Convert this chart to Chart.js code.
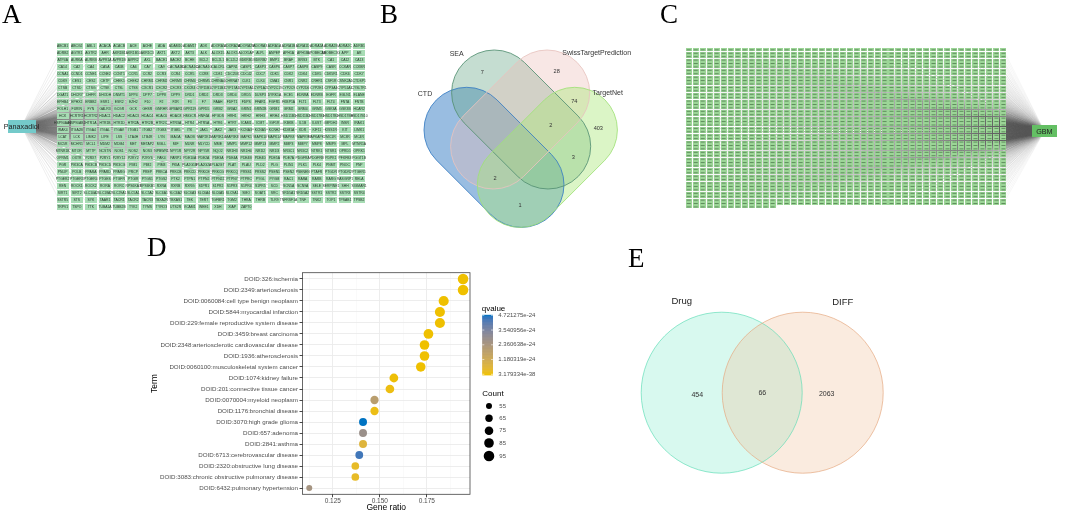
<!DOCTYPE html>
<html><head><meta charset="utf-8">
<script src="https://cdn.jsdelivr.net/npm/chart.js@4.4.1/dist/chart.umd.min.js"></script>
<style>
html,body{margin:0;padding:0;background:#fff;}
body{width:1065px;height:513px;overflow:hidden;position:relative;}
canvas{position:absolute;}
</style></head>
<body>
<canvas id="cA" width="380" height="225" style="left:0px;top:0px"></canvas>
<canvas id="cB" width="280" height="250" style="left:380px;top:0px"></canvas>
<canvas id="cC" width="405" height="225" style="left:660px;top:0px"></canvas>
<canvas id="cD" width="420" height="281" style="left:140px;top:232px"></canvas>
<canvas id="cE" width="455" height="273" style="left:610px;top:240px"></canvas>
<script>
// ================= DATA =================
const drugHub = 'Panaxadiol';
const drugGenes = [
 'ABCB1 ABCG2 ABL1 ACACA ACACB ACE ACHE ADA ADAM10 ADAM17 ADK ADORA1 ADORA2A ADORA2B ADORA3 ADRA1A ADRA1B ADRA1D ADRA2A ADRA2B ADRA2C ADRB1',
 'ADRB2 AGTR1 AGTR2 AHR AKR1B1 AKR1B10 AKR1C3 AKT1 AKT2 AKT3 ALK ALOX15 ALOX5 ALOX5AP ALPL ANPEP APH1A APH1B APOBEC3A APOBEC3G APP AR',
 'ATP4A AURKA AURKB AVPR1A AVPR1B AVPR2 AXL BACE1 BACE2 BCHE BCL2 BCL2L1 BCL2L2 BDKRB1 BDKRB2 BMP1 BRAF BRS3 BTK CA1 CA12 CA13',
 'CA14 CA2 CA4 CA5A CA5B CA6 CA7 CA9 CACNA1B CACNA1C CACNA1G CALCRL CAPN1 CASP1 CASP3 CASP6 CASP7 CASP8 CASP9 CASR CCKAR CCKBR',
 'CCNA1 CCND1 CCNE1 CCNE2 CCNT1 CCR1 CCR2 CCR3 CCR4 CCR5 CCR8 CD81 CDC25B CDC42 CDC7 CDK1 CDK2 CDK4 CDK5 CDK5R1 CDK6 CDK7',
 'CDK9 CES1 CES2 CETP CHEK1 CHEK2 CHRM1 CHRM2 CHRM3 CHRM4 CHRM5 CHRNA4 CHRNA7 CLK1 CLK4 CMA1 CNR1 CNR2 CRHR1 CSF1R CSNK2A1 CTDSP1',
 'CTSB CTSD CTSG CTSK CTSL CTSS CXCR1 CXCR2 CXCR3 CXCR4 CYP11B1 CYP11B2 CYP17A1 CYP19A1 CYP1A2 CYP2C19 CYP2C9 CYP2D6 CYP2E1 CYP3A4 CYP51A1 CYSLTR1',
 'DGAT1 DHCR7 DHFR DHODH DNMT1 DPP4 DPP7 DPP8 DPP9 DRD1 DRD2 DRD3 DRD4 DRD5 DUSP3 DYRK1A ECE1 EDNRA EDNRB EGFR EGLN1 ELANE',
 'EPHB4 EPHX2 ERBB2 ESR1 ESR2 EZH2 F10 F2 F2R F3 F7 FAAH FDFT1 FDPS FFAR1 FGFR1 FKBP1A FLT1 FLT3 FLT4 FNTA FNTB',
 'FOLH1 FURIN FYN GALR3 GCGR GCK GHSR GNRHR GPBAR1 GPR119 GPR55 GRB2 GRIA2 GRIN1 GRIN2B GRM1 GRM2 GRM4 GRM5 GSK3A GSK3B HCAR2',
 'HCK HCRTR1 HCRTR2 HDAC1 HDAC2 HDAC3 HDAC4 HDAC6 HDAC8 HMGCR HNF4A HPGDS HRH1 HRH2 HRH3 HRH4 HSD11B1 HSD11B2 HSD17B1 HSD17B2 HSD17B3 HSD17B10',
 'HSP90AA1 HSP90AB1 HTR1A HTR1B HTR1D HTR2A HTR2B HTR2C HTR3A HTR4 HTR5A HTR6 HTR7 ICAM1 ICMT IGF1R IKBKB IL1B IL6ST IMPDH2 INSR IRAK1',
 'IRAK4 ITGA2B ITGA4 ITGAL ITGAV ITGB1 ITGB2 ITGB3 ITGB5 ITK JAK1 JAK2 JAK3 KCNA3 KCNA5 KCNH2 KDM1A KDR KIF11 KISS1R KIT LIMK1',
 'LCAT LCK LIMK2 LIPE LSS LTA4H LTB4R LYN MAOA MAOB MAP2K1 MAP3K14 MAP3K8 MAPK1 MAPK10 MAPK14 MAPK8 MAPK9 MAPKAPK2 MC1R MC3R MC4R',
 'MC5R MCHR1 MCL1 MDM2 MDM4 MET METAP2 MGLL MIF MLNR MLYCD MME MMP1 MMP12 MMP13 MMP2 MMP3 MMP7 MMP8 MMP9 MPL MTNR1A',
 'MTNR1B MTOR MTTP NCSTN NOS1 NOS2 NOS3 NPBWR1 NPY1R NPY2R NPY5R NQO2 NR1H3 NR1H4 NR1I2 NR1I3 NR3C1 NR3C2 NTRK1 NTSR1 OPRD1 OPRK1',
 'OPRM1 OXTR P2RX7 P2RY1 P2RY12 P2RY2 P2RY6 PAK4 PARP1 PDE10A PDE2A PDE3A PDE4A PDE4B PDE4D PDE5A PDE7A PDGFRA PDGFRB PDPK1 PFKFB3 PGGT1B',
 'PGR PIK3CA PIK3CB PIK3CD PIK3CG PIM1 PIM2 PIM3 PKIA PLA2G1B PLA2G2A PLA2G7 PLAT PLAU PLD2 PLG PLIN1 PLK1 PLK4 PNMT PNOC PNP',
 'PNLIP POLB PPARA PPARD PPARG PRCP PREP PRKCA PRKCB PRKCD PRKCE PRKCG PRKCQ PRSS1 PRSS2 PSEN1 PSEN2 PSENEN PTAFR PTGDR PTGDR2 PTGER1',
 'PTGER2 PTGER3 PTGER4 PTGES PTGFR PTGIR PTGS1 PTGS2 PTK2 PTPN1 PTPN2 PTPN22 PTPN7 PTPRC PYGL PYGM RAC1 RARA RARB RARG RASGRP1 RELA',
 'REN ROCK1 ROCK2 RORA RORC RPS6KA3 RPS6KB1 RXRA RXRB RXRG S1PR1 S1PR2 S1PR3 S1PR4 S1PR5 SCD SCN5A SCN9A SELE SERPINE1 SHH SIGMAR1',
 'SIRT1 SIRT2 SLC10A2 SLC18A2 SLC29A1 SLC5A1 SLC5A2 SLC6A1 SLC6A2 SLC6A3 SLC6A4 SLC6A5 SLC9A1 SMO SOAT1 SRC SRD5A1 SRD5A2 SSTR1 SSTR2 SSTR3 SSTR4',
 'SSTR5 STS SYK TAAR1 TACR1 TACR2 TACR3 TBXA2R TBXAS1 TEK TERT TGFBR1 TGM2 THRA THRB TLR9 TNFRSF1A TNF TNK2 TOP1 TPSAB1 TPSB2',
 'TRPV1 TSPO TTK TUBA1A TUBB2B TYK2 TYMS TYRO3 UTS2R VCAM1 WEE1 XDH XIAP ZAP70'
].join(' ').split(' ');

const diseaseHub = 'GBM';
const vennBSets = ['CTD', 'SEA', 'SwissTargetPrediction', 'TargetNet'];
const vennBRegions = ['SEA', 'Swiss', 'Swiss∩TargetNet', 'SEA∩Swiss∩TargetNet', 'TargetNet', 'SEA∩TargetNet', 'CTD∩Swiss∩TargetNet', 'CTD∩TargetNet'];
const vennBCounts = [7, 28, 74, 2, 403, 3, 2, 1];

const vennESets = ['Drug', 'DIFF'];
const vennERegions = ['Drug only', 'Drug∩DIFF', 'DIFF only'];
const vennECounts = [454, 66, 2063];
const diffGeneTotal = vennECounts[1] + vennECounts[2];

const doTerms = [
 'DOID:326:ischemia', 'DOID:2349:arteriosclerosis', 'DOID:0060084:cell type benign neoplasm',
 'DOID:5844:myocardial infarction', 'DOID:229:female reproductive system disease', 'DOID:3459:breast carcinoma',
 'DOID:2348:arteriosclerotic cardiovascular disease', 'DOID:1936:atherosclerosis', 'DOID:0060100:musculoskeletal system cancer',
 'DOID:1074:kidney failure', 'DOID:201:connective tissue cancer', 'DOID:0070004:myeloid neoplasm',
 'DOID:1176:bronchial disease', 'DOID:3070:high grade glioma', 'DOID:657:adenoma', 'DOID:2841:asthma',
 'DOID:6713:cerebrovascular disease', 'DOID:2320:obstructive lung disease',
 'DOID:3083:chronic obstructive pulmonary disease', 'DOID:6432:pulmonary hypertension'
];
const doGeneRatio = [0.1943, 0.1943, 0.1840, 0.1820, 0.1820, 0.1759, 0.1738, 0.1738, 0.1718, 0.1575,
                     0.1554, 0.1472, 0.1472, 0.1411, 0.1411, 0.1411, 0.1391, 0.1370, 0.1370, 0.1125];
const doCount = [95, 95, 90, 89, 89, 86, 85, 85, 84, 77, 76, 72, 72, 69, 69, 69, 68, 67, 67, 55];
const doQvalue = [3.179334e-38, 8.2e-37, 1.5e-33, 2.9e-32, 3.1e-32, 4.6e-30, 1.8e-29, 1.9e-29, 6.4e-29, 3.3e-26,
                  9.1e-26, 1.9e-24, 1.2e-25, 4.721275e-24, 2.8e-24, 6.5e-25, 4.4e-24, 3.0e-25, 3.0e-25, 2.5e-24];
const xMajorTicks = [0.125, 0.150, 0.175];
const xMinorTicks = [0.1125, 0.1375, 0.1625, 0.1875];
const qLegendValues = [4.721275e-24, 3.540956e-24, 2.360638e-24, 1.180319e-24, 3.179334e-38];
const qLegendLabels = ['4.721275e-24', '3.540956e-24', '2.360638e-24', '1.180319e-24', '3.179334e-38'];
const countLegend = [55, 65, 75, 85, 95];

// ================= LAYOUT / STYLE =================
const SANS = '"Liberation Sans", Arial, Helvetica, sans-serif';
const SERIF = '"Liberation Serif", "Times New Roman", serif';
const NET = {
  A: {w: 380, h: 225, cols: 22, x0: 59.2, dx: 14.5, y0: 42.7, dy: 7.33, hubX: 17, hubY: 127,
      cellW: 12, cellH: 6, hubW: 28, hubH: 13, node: '#a7dcb4', hub: '#74caca', edge: 'rgba(105,105,105,0.22)',
      font: 3.4, text: '#1f2f22', hubFont: 7.2},
  C: {w: 405, h: 225, cols: 46, x0: 24.3, dx: 7.17, y0: 46.9, dy: 3.574, hubX: 389, hubY: 132,
      cellW: 6, cellH: 3, hubW: 25, hubH: 12, node: '#9cd597', hub: '#64bf64', edge: 'rgba(105,105,105,0.10)',
      hubFont: 7.2}
};
const VB = {
  r: 42.7,
  shapes: [
    {c1: [86.7, 130], c2: [141.3, 184.7], fill: 'rgba(70,135,200,0.55)', stroke: 'rgba(55,125,195,0.95)'},
    {c1: [114.3, 92.7], c2: [168, 146.3], fill: 'rgba(110,170,140,0.40)', stroke: 'rgba(85,145,115,0.95)'},
    {c1: [167, 92.7], c2: [113.3, 146.3], fill: 'rgba(235,185,180,0.35)', stroke: 'rgba(232,195,190,0.95)'},
    {c1: [194.7, 130], c2: [140, 184.7], fill: 'rgba(170,230,120,0.42)', stroke: 'rgba(160,225,120,0.95)'}
  ],
  setPos: [[45, 94.3], [76.7, 54], [216.7, 53.3], [227.7, 93.3]],
  countPos: [[102.3, 72.7], [176.7, 71.7], [194.3, 101.7], [170.7, 125.7], [218.3, 128.3], [193.3, 157.3], [115, 178.3], [140, 205.7]]
};
const VE = {
  r: 80.5,
  circles: [
    {c: [111.7, 152.7], fill: 'rgba(100,230,190,0.25)', stroke: 'rgba(90,220,180,0.65)'},
    {c: [192.7, 152.7], fill: 'rgba(240,190,150,0.30)', stroke: 'rgba(230,170,130,0.70)'}
  ],
  setPos: [[71.7, 61.7], [232.7, 62.3]],
  countPos: [[87.3, 154.7], [152.3, 152.7], [216.7, 154]]
};

// ================= HELPERS =================
const base = {responsive: false, animation: false, events: [],
  plugins: {legend: {display: false}, tooltip: {enabled: false}}, layout: {padding: 0}};

function rectImage(w, h, fill, mark) {
  const c = document.createElement('canvas');
  c.width = w; c.height = h;
  const g = c.getContext('2d');
  g.fillStyle = fill; g.fillRect(0, 0, w, h);
  if (mark) { g.fillStyle = mark; g.fillRect(1, Math.floor(h / 2), w - 2, 1); }
  return c;
}
function letterPlugin(txt, x, y) {
  return {id: 'letter' + txt, afterDraw(chart) {
    const g = chart.ctx; g.save(); g.font = '27px ' + SERIF; g.fillStyle = '#000';
    g.textBaseline = 'alphabetic'; g.textAlign = 'left'; g.fillText(txt, x, y); g.restore();
  }};
}

function srgb2lin(c) { c /= 255; return c <= 0.04045 ? c / 12.92 : Math.pow((c + 0.055) / 1.055, 2.4); }
function lin2srgb(c) { const v = c <= 0.0031308 ? 12.92 * c : 1.055 * Math.pow(c, 1 / 2.4) - 0.055; return Math.round(Math.max(0, Math.min(1, v)) * 255); }
function rgb2lab(rgb) {
  const R = srgb2lin(rgb[0]), G = srgb2lin(rgb[1]), B = srgb2lin(rgb[2]);
  const X = (R * 0.4124 + G * 0.3576 + B * 0.1805) / 0.95047, Y = R * 0.2126 + G * 0.7152 + B * 0.0722, Z = (R * 0.0193 + G * 0.1192 + B * 0.9505) / 1.08883;
  const f = t => t > 0.008856 ? Math.cbrt(t) : 7.787 * t + 16 / 116;
  const fx = f(X), fy = f(Y), fz = f(Z);
  return [116 * fy - 16, 500 * (fx - fy), 200 * (fy - fz)];
}
function lab2rgb(lab) {
  const fy = (lab[0] + 16) / 116, fx = fy + lab[1] / 500, fz = fy - lab[2] / 200;
  const fi = t => t > 0.206893 ? t * t * t : (t - 16 / 116) / 7.787;
  const X = fi(fx) * 0.95047, Y = fi(fy), Z = fi(fz) * 1.08883;
  return [lin2srgb(X * 3.2406 - Y * 1.5372 - Z * 0.4986), lin2srgb(-X * 0.9689 + Y * 1.8758 + Z * 0.0415), lin2srgb(X * 0.0557 - Y * 0.2040 + Z * 1.0570)];
}
const LOW = rgb2lab([239, 192, 0]), HIGH = rgb2lab([0, 115, 194]);
const qMin = Math.min(...qLegendValues), qMax = Math.max(...qLegendValues);
function qColor(q) {
  const t = Math.max(0, Math.min(1, (q - qMin) / (qMax - qMin)));
  const c = lab2rgb([0, 1, 2].map(k => LOW[k] + (HIGH[k] - LOW[k]) * t));
  return 'rgb(' + c.join(',') + ')';
}
const dotRadius = n => Math.sqrt(0.475 * n - 17.1);

// ================= NETWORK PANELS (A, C) =================
function makeNetwork(id, L, count, names, hubName, letter) {
  const pts = [];
  for (let i = 0; i < count; i++) pts.push({x: i % L.cols, y: Math.floor(i / L.cols)});
  const hub = {x: (L.hubX - L.x0) / L.dx, y: (L.hubY - L.y0) / L.dy};
  const edges = [];
  pts.forEach(p => { edges.push(hub, p, {x: NaN, y: NaN}); });
  const nodeImg = rectImage(L.cellW, L.cellH, L.node, names ? null : 'rgba(45,85,45,0.55)');
  const hubImg = rectImage(L.hubW, L.hubH, L.hub, null);
  const labels = {id: 'netLabels', afterDatasetsDraw(chart) {
    const g = chart.ctx; g.save(); g.textAlign = 'center'; g.textBaseline = 'middle';
    if (names) {
      g.font = L.font + 'px ' + SANS; g.fillStyle = L.text;
      chart.getDatasetMeta(1).data.forEach((el, i) => g.fillText(names[i], el.x, el.y + 0.2));
    }
    const h = chart.getDatasetMeta(0).data[0];
    g.font = L.hubFont + 'px ' + SANS; g.fillStyle = '#222';
    g.fillText(hubName, h.x, h.y + 0.5);
    g.restore();
  }};
  return new Chart(document.getElementById(id), {
    type: 'scatter',
    data: {datasets: [
      {data: [hub], pointStyle: hubImg, pointRadius: 1, order: 0},
      {data: pts, pointStyle: nodeImg, pointRadius: 1, order: 1},
      {data: edges, showLine: true, pointRadius: 0, borderColor: L.edge, borderWidth: 0.5,
       segment: {borderColor: () => undefined}, order: 2}
    ]},
    options: Object.assign({}, base, {scales: {
      x: {type: 'linear', display: false, min: -L.x0 / L.dx, max: (L.w - L.x0) / L.dx},
      y: {type: 'linear', display: false, reverse: true, min: -L.y0 / L.dy, max: (L.h - L.y0) / L.dy}
    }}),
    plugins: [labels, letterPlugin(letter, letter === 'A' ? 2 : 0, 23)]
  });
}
makeNetwork('cA', NET.A, drugGenes.length, drugGenes, drugHub, 'A');
makeNetwork('cC', NET.C, diffGeneTotal, null, diseaseHub, 'C');

// ================= VENN B =================
const vennBPlugin = {id: 'vennB',
  beforeDatasetsDraw(chart) {
    const g = chart.ctx, xs = chart.scales.x, ys = chart.scales.y;
    const k = xs.getPixelForValue(1) - xs.getPixelForValue(0);
    const path = s => {
      const x1 = xs.getPixelForValue(s.c1[0]), y1 = ys.getPixelForValue(s.c1[1]);
      const x2 = xs.getPixelForValue(s.c2[0]), y2 = ys.getPixelForValue(s.c2[1]);
      const th = Math.atan2(y2 - y1, x2 - x1), r = VB.r * k;
      g.beginPath(); g.arc(x2, y2, r, th - Math.PI / 2, th + Math.PI / 2);
      g.arc(x1, y1, r, th + Math.PI / 2, th + 3 * Math.PI / 2); g.closePath();
    };
    g.save();
    VB.shapes.forEach(s => { path(s); g.fillStyle = s.fill; g.fill(); });
    g.lineWidth = 0.9;
    VB.shapes.forEach(s => { path(s); g.strokeStyle = s.stroke; g.stroke(); });
    g.restore();
  },
  afterDatasetsDraw(chart) {
    const g = chart.ctx, xs = chart.scales.x, ys = chart.scales.y;
    g.save(); g.textAlign = 'center'; g.textBaseline = 'middle'; g.fillStyle = '#333';
    g.font = '7px ' + SANS;
    vennBSets.forEach((s, i) => g.fillText(s, xs.getPixelForValue(VB.setPos[i][0]), ys.getPixelForValue(VB.setPos[i][1])));
    g.font = '5.6px ' + SANS;
    chart.getDatasetMeta(0).data.forEach((el, i) => g.fillText(String(vennBCounts[i]), el.x, el.y));
    g.restore();
  }
};
new Chart(document.getElementById('cB'), {
  type: 'scatter',
  data: {datasets: [{data: VB.countPos.map(p => ({x: p[0], y: p[1]})), pointRadius: 0}]},
  options: Object.assign({}, base, {scales: {
    x: {type: 'linear', display: false, min: 0, max: 280},
    y: {type: 'linear', display: false, reverse: true, min: 0, max: 250}}}),
  plugins: [vennBPlugin, letterPlugin('B', 0, 23)]
});

// ================= VENN E =================
const vennEPlugin = {id: 'vennE',
  beforeDatasetsDraw(chart) {
    const g = chart.ctx, xs = chart.scales.x, ys = chart.scales.y;
    const k = xs.getPixelForValue(1) - xs.getPixelForValue(0);
    g.save(); g.lineWidth = 1;
    VE.circles.forEach(c => { g.beginPath(); g.arc(xs.getPixelForValue(c.c[0]), ys.getPixelForValue(c.c[1]), VE.r * k, 0, 2 * Math.PI); g.fillStyle = c.fill; g.fill(); });
    VE.circles.forEach(c => { g.beginPath(); g.arc(xs.getPixelForValue(c.c[0]), ys.getPixelForValue(c.c[1]), VE.r * k, 0, 2 * Math.PI); g.strokeStyle = c.stroke; g.stroke(); });
    g.restore();
  },
  afterDatasetsDraw(chart) {
    const g = chart.ctx, xs = chart.scales.x, ys = chart.scales.y;
    g.save(); g.textAlign = 'center'; g.textBaseline = 'middle'; g.fillStyle = '#222';
    g.font = '9.5px ' + SANS;
    vennESets.forEach((s, i) => g.fillText(s, xs.getPixelForValue(VE.setPos[i][0]), ys.getPixelForValue(VE.setPos[i][1])));
    g.font = '7px ' + SANS; g.fillStyle = '#333';
    chart.getDatasetMeta(0).data.forEach((el, i) => g.fillText(String(vennECounts[i]), el.x, el.y));
    g.restore();
  }
};
new Chart(document.getElementById('cE'), {
  type: 'scatter',
  data: {datasets: [{data: VE.countPos.map(p => ({x: p[0], y: p[1]})), pointRadius: 0}]},
  options: Object.assign({}, base, {scales: {
    x: {type: 'linear', display: false, min: 0, max: 455},
    y: {type: 'linear', display: false, reverse: true, min: 0, max: 273}}}),
  plugins: [vennEPlugin, letterPlugin('E', 18, 27)]
});

// ================= DOT PLOT D =================
const isMajor = v => xMajorTicks.some(t => Math.abs(t - v) < 1e-9);
const dLegend = {id: 'dLegend',
  afterDatasetsDraw(chart) {
    const g = chart.ctx, a = chart.chartArea;
    g.save(); g.strokeStyle = '#444'; g.lineWidth = 0.8;
    g.strokeRect(a.left, a.top, a.right - a.left, a.bottom - a.top); g.restore();
  },
  afterDraw(chart) {
    const g = chart.ctx;
    g.save(); g.textBaseline = 'middle'; g.textAlign = 'left';
    g.fillStyle = '#000'; g.font = '8px ' + SANS; g.fillText('qvalue', 341.7, 76.3);
    const bx = 342.3, bw = 10.7, top = 83.3, bot = 142.3;
    const N = 80;
    for (let i = 0; i < N; i++) {
      const t = i / (N - 1);
      g.fillStyle = qColor(qMax - t * (qMax - qMin));
      g.fillRect(bx, top - 0.5 + (bot - top + 1) * i / N, bw, (bot - top + 1) / N + 0.6);
    }
    g.font = '6px ' + SANS;
    qLegendValues.forEach((v, i) => {
      const y = top + (qMax - v) / (qMax - qMin) * (bot - top);
      g.strokeStyle = '#fff'; g.lineWidth = 0.6;
      g.beginPath(); g.moveTo(bx, y); g.lineTo(bx + 2, y); g.moveTo(bx + bw - 2, y); g.lineTo(bx + bw, y); g.stroke();
      g.fillStyle = '#4d4d4d'; g.fillText(qLegendLabels[i], 358.3, y);
    });
    g.fillStyle = '#000'; g.font = '8px ' + SANS; g.fillText('Count', 342.3, 161.3);
    const ys = [174, 186.3, 198.7, 211, 224];
    countLegend.forEach((n, i) => {
      g.fillStyle = '#000'; g.beginPath(); g.arc(349, ys[i], dotRadius(n), 0, 2 * Math.PI); g.fill();
      g.fillStyle = '#4d4d4d'; g.font = '6px ' + SANS; g.fillText(String(n), 359.3, ys[i]);
    });
    g.restore();
  }
};
new Chart(document.getElementById('cD'), {
  type: 'scatter',
  data: {datasets: [{
    data: doTerms.map((t, i) => ({x: doGeneRatio[i], y: i + 1})),
    pointRadius: ctx => dotRadius(doCount[ctx.dataIndex]),
    pointBackgroundColor: ctx => qColor(doQvalue[ctx.dataIndex]),
    pointBorderWidth: 0
  }]},
  options: Object.assign({}, base, {
    layout: {padding: {top: 40.7, right: 90, left: 0, bottom: 0}},
    scales: {
      x: {type: 'linear', min: 0.1089, max: 0.1980,
        afterBuildTicks: s => { s.ticks = xMinorTicks.concat(xMajorTicks).sort((a, b) => a - b).map(v => ({value: v})); },
        afterFit: s => { s.height = 18.7; },
        ticks: {autoSkip: false, maxRotation: 0, padding: 0.5, color: '#4d4d4d', font: {size: 6.5, family: SANS},
          callback: v => isMajor(v) ? v.toFixed(3) : ''},
        grid: {color: c => (c.tick && isMajor(c.tick.value)) ? '#ebebeb' : '#f4f4f4',
               lineWidth: c => (c.tick && isMajor(c.tick.value)) ? 0.9 : 0.5,
               tickColor: c => (c.tick && isMajor(c.tick.value)) ? '#333' : 'rgba(0,0,0,0)', tickLength: 3},
        border: {display: false},
        title: {display: true, text: 'Gene ratio', color: '#000', font: {size: 8.5, family: SANS}, padding: {top: 0, bottom: 0}}
      },
      y: {type: 'linear', min: 0.43, max: 20.57, reverse: true,
        afterBuildTicks: s => { s.ticks = doTerms.map((t, i) => ({value: i + 1})); },
        afterFit: s => { s.width = 162.5; },
        ticks: {autoSkip: false, padding: 1.5, color: '#4d4d4d', font: {size: 6.2, family: SANS},
          callback: v => doTerms[Math.round(v) - 1]},
        grid: {color: '#ebebeb', lineWidth: 0.9, tickColor: '#333', tickLength: 3},
        border: {display: false},
        title: {display: true, text: 'Term', color: '#000', font: {size: 8.5, family: SANS}, padding: {top: 9.9, bottom: 0}}
      }
    }
  }),
  plugins: [dLegend, letterPlugin('D', 7, 24)]
});
</script>
</body></html>
